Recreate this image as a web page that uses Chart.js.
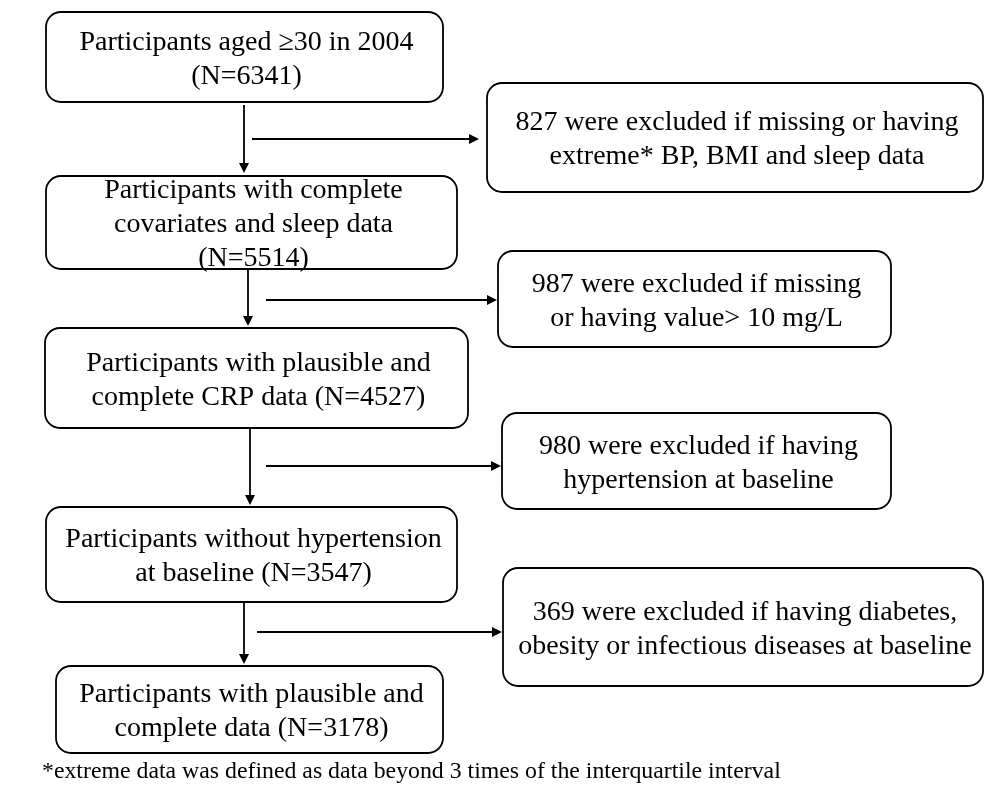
<!DOCTYPE html>
<html>
<head>
<meta charset="utf-8">
<script src="https://cdn.jsdelivr.net/npm/chart.js@4.4.0/dist/chart.umd.min.js"></script>
<style>
  html, body { margin: 0; padding: 0; background: #ffffff; }
  #wrap { width: 984px; height: 787px; position: relative; }
</style>
</head>
<body>
<div id="wrap"><canvas id="c"></canvas></div>
<script>
// ---------------- DATA ----------------
const stepLabels = [
  "Participants aged \u226530 in 2004\n(N={n})",
  "Participants with complete\ncovariates and sleep data\n(N={n})",
  "Participants with plausible and\ncomplete CRP data (N={n})",
  "Participants without hypertension\nat baseline (N={n})",
  "Participants with plausible and\ncomplete data (N={n})"
];
const stepCounts = [6341, 5514, 4527, 3547, 3178];

const excludedReasons = [
  "{n} were excluded if missing or having\nextreme* BP, BMI and sleep data",
  "{n} were excluded if missing\nor having value> 10 mg/L",
  "{n} were excluded if having\nhypertension at baseline",
  "{n} were excluded if having diabetes,\nobesity or infectious diseases at baseline"
];
const excludedCounts = [827, 987, 980, 369];

const footnoteText = "*extreme data was defined as data beyond 3 times of the interquartile interval";

// ---------------- LAYOUT (scale units) ----------------
const stepBoxes = [
  { x0: 46, x1: 443, y0: 12,  y1: 102 },
  { x0: 46, x1: 457, y0: 176, y1: 269 },
  { x0: 45, x1: 468, y0: 328, y1: 428 },
  { x0: 46, x1: 457, y0: 507, y1: 602 },
  { x0: 56, x1: 443, y0: 666, y1: 753 }
];
const exclBoxes = [
  { x0: 487, x1: 983, y0: 83,  y1: 192 },
  { x0: 498, x1: 891, y0: 251, y1: 347 },
  { x0: 502, x1: 891, y0: 413, y1: 509 },
  { x0: 503, x1: 983, y0: 568, y1: 686 }
];
const downArrows = [
  { x: 244, y0: 105, y1: 173 },
  { x: 248, y0: 270, y1: 326 },
  { x: 250, y0: 429, y1: 505 },
  { x: 244, y0: 603, y1: 664 }
];
const sideArrows = [
  { y: 139, x0: 252, x1: 479 },
  { y: 300, x0: 266, x1: 497 },
  { y: 466, x0: 266, x1: 501 },
  { y: 632, x0: 257, x1: 502 }
];
const footnotePos = { x: 42, y: 778 };

const FONT_BOX = "28px 'Liberation Serif', 'Times New Roman', serif";
const FONT_NOTE = "23.8px 'Liberation Serif', 'Times New Roman', serif";
const LINE_H = 34;
const INK = "#000000";

function fill(tpl, n) { return tpl.replace("{n}", String(n)); }

const centers = stepBoxes.map(b => ({ x: (b.x0 + b.x1) / 2, y: (b.y0 + b.y1) / 2 }))
  .concat(exclBoxes.map(b => ({ x: (b.x0 + b.x1) / 2, y: (b.y0 + b.y1) / 2 })));

const flowPlugin = {
  id: 'flow',
  afterDatasetsDraw(chart) {
    const ctx = chart.ctx;
    const xs = chart.scales.x, ys = chart.scales.y;
    const px = v => xs.getPixelForValue(v);
    const py = v => ys.getPixelForValue(v);

    function roundRect(b, r) {
      const x0 = px(b.x0), x1 = px(b.x1), y0 = py(b.y0), y1 = py(b.y1);
      ctx.beginPath();
      ctx.moveTo(x0 + r, y0);
      ctx.lineTo(x1 - r, y0);
      ctx.arcTo(x1, y0, x1, y0 + r, r);
      ctx.lineTo(x1, y1 - r);
      ctx.arcTo(x1, y1, x1 - r, y1, r);
      ctx.lineTo(x0 + r, y1);
      ctx.arcTo(x0, y1, x0, y1 - r, r);
      ctx.lineTo(x0, y0 + r);
      ctx.arcTo(x0, y0, x0 + r, y0, r);
      ctx.closePath();
      ctx.fillStyle = '#ffffff';
      ctx.fill();
      ctx.lineWidth = 1.8;
      ctx.strokeStyle = INK;
      ctx.stroke();
    }
    function boxText(b, text) {
      const lines = text.split("\n");
      const cx = px((b.x0 + b.x1) / 2) + 2;
      const cy = py((b.y0 + b.y1) / 2);
      ctx.font = FONT_BOX;
      ctx.fillStyle = INK;
      ctx.textAlign = 'center';
      ctx.textBaseline = 'alphabetic';
      lines.forEach((ln, i) => {
        const mid = cy + (i - (lines.length - 1) / 2) * LINE_H;
        ctx.fillText(ln, cx, mid + 9.5);
      });
    }
    function arrow(x0, y0, x1, y1) {
      const ang = Math.atan2(y1 - y0, x1 - x0);
      const hl = 10, hw = 5;
      ctx.strokeStyle = INK;
      ctx.fillStyle = INK;
      ctx.lineWidth = 1.8;
      ctx.beginPath();
      ctx.moveTo(x0, y0);
      ctx.lineTo(x1 - Math.cos(ang) * hl, y1 - Math.sin(ang) * hl);
      ctx.stroke();
      ctx.beginPath();
      ctx.moveTo(x1, y1);
      ctx.lineTo(x1 - Math.cos(ang) * hl - Math.sin(ang) * hw, y1 - Math.sin(ang) * hl + Math.cos(ang) * hw);
      ctx.lineTo(x1 - Math.cos(ang) * hl + Math.sin(ang) * hw, y1 - Math.sin(ang) * hl - Math.cos(ang) * hw);
      ctx.closePath();
      ctx.fill();
    }

    ctx.save();
    downArrows.forEach(a => arrow(px(a.x), py(a.y0), px(a.x), py(a.y1)));
    sideArrows.forEach(a => arrow(px(a.x0), py(a.y), px(a.x1), py(a.y)));
    stepBoxes.forEach(b => roundRect(b, 15));
    exclBoxes.forEach(b => roundRect(b, 15));
    stepBoxes.forEach((b, i) => boxText(b, fill(stepLabels[i], stepCounts[i])));
    exclBoxes.forEach((b, i) => boxText(b, fill(excludedReasons[i], excludedCounts[i])));

    ctx.font = FONT_NOTE;
    ctx.fillStyle = INK;
    ctx.textAlign = 'left';
    ctx.textBaseline = 'alphabetic';
    ctx.fillText(footnoteText, px(footnotePos.x), py(footnotePos.y));
    ctx.restore();
  }
};

new Chart(document.getElementById('c'), {
  type: 'scatter',
  data: {
    datasets: [{
      label: 'nodes',
      data: centers,
      pointRadius: 0,
      pointHoverRadius: 0,
      showLine: false
    }]
  },
  options: {
    responsive: true,
    maintainAspectRatio: false,
    animation: false,
    events: [],
    layout: { padding: 0 },
    plugins: { legend: { display: false }, tooltip: { enabled: false }, title: { display: false } },
    scales: {
      x: { type: 'linear', min: 0, max: 984, display: false },
      y: { type: 'linear', min: 0, max: 787, reverse: true, display: false }
    }
  },
  plugins: [flowPlugin]
});
</script>
</body>
</html>
